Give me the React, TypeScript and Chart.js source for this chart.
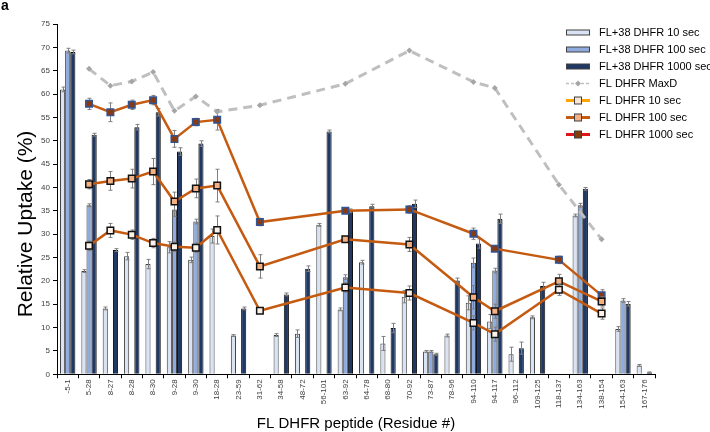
import React, { useEffect, useRef } from 'react';
import { Chart, registerables } from 'chart.js';
Chart.register(...registerables);

const categories = ['-5-1','5-28','8-27','8-28','8-30','9-28','9-30','18-28','23-59','31-62','34-58','48-72','56-101','63-92','64-78','68-80','70-92','73-87','78-96','94-110','94-117','96-112','109-125','118-137','134-163','138-154','154-163','167-176'];

const fl38_10 = [61.0,22.1,14.1,25.3,23.6,27.2,24.5,29.6,8.3,null,8.4,8.7,32.0,13.9,24.0,6.6,16.6,4.9,8.3,15.3,11.3,4.3,12.2,null,34.0,null,9.7,1.9];
const fl38_100 = [69.3,36.2,null,null,null,35.3,32.7,null,null,null,null,null,null,20.8,null,null,null,4.9,null,23.9,22.2,null,null,null,36.2,null,15.8,null];
const fl38_1000 = [69.0,51.3,26.6,52.9,56.1,47.7,49.4,null,14.1,null,17.1,22.6,52.0,35.0,36.0,9.9,36.5,4.3,20.1,28.0,33.3,5.6,18.9,null,39.7,null,15.1,0.4];

const fl38_10_err = [0.5,0.3,0.3,0.8,1.0,1.2,0.6,1.5,0.2,null,0.3,0.8,0.3,0.3,0.4,1.5,1.3,0.2,0.3,1.5,1.5,1.5,0.3,null,0.3,null,0.5,0.2];
const fl38_100_err = [0.5,0.3,null,null,null,1.5,0.5,null,null,null,null,null,null,0.5,null,null,null,0.2,null,1.0,0.5,null,null,null,0.4,null,0.4,null];
const fl38_1000_err = [0.4,0.3,0.3,0.6,0.8,0.8,0.6,null,0.3,null,0.3,0.6,0.3,0.4,0.4,1.0,0.8,0.2,0.5,1.0,1.0,1.3,0.8,null,0.3,null,0.5,0.1];

const flMaxD = [null,65.4,61.8,62.7,64.7,56.4,59.5,56.2,null,57.6,null,null,null,62.2,null,null,69.3,null,null,62.6,61.3,null,null,40.6,null,28.9,null,null];
const fl10 = [null,27.5,30.8,29.9,28.1,27.3,27.1,30.9,null,13.6,null,null,null,18.6,null,null,17.4,null,null,11.0,8.6,null,null,18.1,null,13.0,null,null];
const fl100 = [null,40.7,41.4,41.9,43.4,37.0,39.8,40.4,null,23.1,null,null,null,28.9,null,null,27.8,null,null,16.5,13.5,null,null,19.9,null,15.6,null,null];
const fl1000 = [null,57.9,56.1,57.7,58.7,50.4,54.0,54.5,null,32.6,null,null,null,35.0,null,null,35.3,null,null,30.1,26.9,null,null,24.5,null,16.9,null,null];

const fl10_err = [null,1.0,1.5,1.0,1.0,1.0,1.0,3.0,null,0.5,null,null,null,1.0,null,null,1.5,null,null,1.5,1.5,null,null,1.2,null,1.2,null,null];
const fl100_err = [null,1.0,2.0,2.0,2.8,2.0,2.0,3.5,null,2.5,null,null,null,0.5,null,null,1.5,null,null,2.5,1.5,null,null,1.5,null,1.0,null,null];
const fl1000_err = [null,1.2,2.0,1.0,1.0,1.8,0.8,2.2,null,0.8,null,null,null,0.3,null,null,0.8,null,null,1.2,0.5,null,null,0.8,null,1.2,null,null];

const yTicks = [0,5,10,15,20,25,30,35,40,45,50,55,60,65,70,75];

const legendLabels = ['FL+38 DHFR 10 sec','FL+38 DHFR 100 sec','FL+38 DHFR 1000 sec','FL DHFR MaxD','FL DHFR 10 sec','FL DHFR 100 sec','FL DHFR 1000 sec'];

const FONT = "Arial, 'Liberation Sans', sans-serif";
const C_LIGHT = '#DAE3F3';
const C_MED = '#8FAADC';
const C_DARK = '#203864';
const C_LINE = '#C55A11';

function drawErrors(chart: any, meta: any, ds: any) {
  const errs = ds.errors;
  if (!errs) return;
  const ctx = chart.ctx;
  const ys = chart.scales.y;
  ctx.save();
  ctx.strokeStyle = '#7F7F7F';
  ctx.lineWidth = 1;
  meta.data.forEach((el: any, i: number) => {
    const v = ds.data[i];
    const e = errs[i];
    if (v == null || e == null || !e) return;
    const x = Math.round(el.x) + 0.5;
    const y1 = ys.getPixelForValue(v + e);
    const y2 = ys.getPixelForValue(v - e);
    ctx.beginPath();
    ctx.moveTo(x, y1); ctx.lineTo(x, y2);
    ctx.moveTo(x - 2, y1); ctx.lineTo(x + 2, y1);
    ctx.moveTo(x - 2, y2); ctx.lineTo(x + 2, y2);
    ctx.stroke();
  });
  ctx.restore();
}

const errorPlugin = {
  id: 'errbars',
  beforeDatasetDraw(chart: any, args: any) {
    const ds = chart.data.datasets[args.index];
    if (ds.type === 'line') drawErrors(chart, args.meta, ds);
  },
  afterDatasetDraw(chart: any, args: any) {
    const ds = chart.data.datasets[args.index];
    if (ds.type !== 'line') drawErrors(chart, args.meta, ds);
  },
};

const decorPlugin = {
  id: 'decor',
  afterDraw(chart: any) {
    const ctx = chart.ctx;
    const area = chart.chartArea;
    ctx.save();
    // panel letter
    ctx.fillStyle = '#000';
    ctx.font = `bold 14px ${FONT}`;
    ctx.textAlign = 'left';
    ctx.textBaseline = 'alphabetic';
    ctx.fillText('a', 1, 10);
    // axis titles
    ctx.font = `15px ${FONT}`;
    ctx.textAlign = 'center';
    ctx.fillText('FL DHFR peptide (Residue #)', (area.left + area.right) / 2, 428);
    ctx.save();
    ctx.translate(32, 224);
    ctx.rotate(-Math.PI / 2);
    ctx.font = `21px ${FONT}`;
    ctx.fillText('Relative Uptake (%)', 0, 0);
    ctx.restore();
    // legend
    const x0 = 566, x1 = 590, tx = 599;
    legendLabels.forEach((lab, i) => {
      const y = 32.5 + i * 17;
      if (i < 3) {
        ctx.fillStyle = [C_LIGHT, C_MED, C_DARK][i];
        ctx.strokeStyle = '#404040';
        ctx.lineWidth = 1;
        ctx.fillRect(x0, y - 2.5, x1 - x0, 5);
        ctx.strokeRect(x0 + 0.5, y - 2.5, x1 - x0 - 1, 5);
      } else if (i === 3) {
        ctx.strokeStyle = '#BFBFBF';
        ctx.lineWidth = 1.5;
        ctx.setLineDash([3, 2]);
        ctx.beginPath(); ctx.moveTo(x0, y); ctx.lineTo(x1, y); ctx.stroke();
        ctx.setLineDash([]);
        ctx.fillStyle = '#A6A6A6';
        ctx.beginPath();
        ctx.moveTo(578, y - 3); ctx.lineTo(581, y); ctx.lineTo(578, y + 3); ctx.lineTo(575, y);
        ctx.closePath(); ctx.fill();
      } else {
        const lc = ['#FFA500', '#C55A11', '#E2141B'][i - 4];
        const fc = ['#FBE5D6', '#F4B183', '#843C0C'][i - 4];
        ctx.strokeStyle = lc;
        ctx.lineWidth = 3;
        ctx.beginPath(); ctx.moveTo(x0, y); ctx.lineTo(x1, y); ctx.stroke();
        ctx.fillStyle = fc;
        ctx.fillRect(574.5, y - 3.5, 7, 7);
        ctx.strokeStyle = '#404040';
        ctx.lineWidth = 1;
        ctx.strokeRect(574.5, y - 3.5, 7, 7);
      }
      ctx.fillStyle = '#000';
      ctx.font = `11px ${FONT}`;
      ctx.textAlign = 'left';
      ctx.textBaseline = 'middle';
      ctx.fillText(lab, tx, y + 0.5);
    });
    ctx.restore();
  },
};

export default function App() {
  const ref = useRef<HTMLCanvasElement>(null);
  useEffect(() => {
    document.body.style.margin = '0';
    Chart.defaults.font.family = FONT;
    const lineBase = {
      type: 'line' as const,
      borderColor: C_LINE,
      borderWidth: 2.5,
      tension: 0,
      spanGaps: true,
      pointStyle: 'rect',
      pointRadius: 4.6,
      pointBorderWidth: 1.5,
      order: 1,
    };
    const chart = new Chart(ref.current as HTMLCanvasElement, {
      type: 'bar',
      data: {
        labels: categories,
        datasets: [
          { type: 'bar', label: legendLabels[0], data: fl38_10, backgroundColor: C_LIGHT, borderColor: '#404040', borderWidth: 1, order: 2, errors: fl38_10_err } as any,
          { type: 'bar', label: legendLabels[1], data: fl38_100, backgroundColor: C_MED, borderColor: '#404040', borderWidth: 1, order: 2, errors: fl38_100_err } as any,
          { type: 'bar', label: legendLabels[2], data: fl38_1000, backgroundColor: C_DARK, borderColor: '#111111', borderWidth: 1, order: 2, errors: fl38_1000_err } as any,
          { type: 'line', label: legendLabels[3], data: flMaxD, borderColor: '#BFBFBF', borderWidth: 3, borderDash: [9, 6], tension: 0, spanGaps: true, pointStyle: 'rectRot', pointRadius: 3, pointBorderWidth: 0, pointBackgroundColor: '#A6A6A6', order: 1 } as any,
          { ...lineBase, label: legendLabels[4], data: fl10, pointBackgroundColor: '#FDF1E8', pointBorderColor: '#111111', errors: fl10_err } as any,
          { ...lineBase, label: legendLabels[5], data: fl100, pointBackgroundColor: '#F4B183', pointBorderColor: '#111111', errors: fl100_err } as any,
          { ...lineBase, label: legendLabels[6], data: fl1000, pointBackgroundColor: '#8B3A0F', pointBorderColor: '#2F5597', errors: fl1000_err } as any,
        ],
      },
      options: {
        animation: false,
        responsive: false,
        devicePixelRatio: 1,
        layout: { padding: { left: 0, right: 55, top: 24, bottom: 0 } },
        datasets: { bar: { categoryPercentage: 0.72, barPercentage: 1.0 } },
        plugins: { legend: { display: false }, tooltip: { enabled: false } },
        scales: {
          x: {
            type: 'category',
            offset: true,
            grid: { offset: true, drawOnChartArea: false, tickLength: 4, color: '#000' },
            border: { color: '#000', width: 1 },
            ticks: { autoSkip: false, maxRotation: 90, minRotation: 90, padding: 1, color: '#404040', font: { size: 8 } },
            afterFit: (s: any) => { s.height = 57.7; },
          },
          y: {
            min: 0,
            max: 75,
            afterBuildTicks: (s: any) => { s.ticks = yTicks.map((v) => ({ value: v })); },
            grid: { drawOnChartArea: false, tickLength: 4, color: '#000' },
            border: { color: '#000', width: 1 },
            ticks: { padding: 3, color: '#404040', font: { size: 8 } },
            afterFit: (s: any) => { s.width = 57; },
          },
        },
      } as any,
      plugins: [errorPlugin, decorPlugin],
    });
    return () => chart.destroy();
  }, []);
  return <canvas ref={ref} width={710} height={432} style={{ display: 'block', width: '710px', height: '432px' }} />;
}
